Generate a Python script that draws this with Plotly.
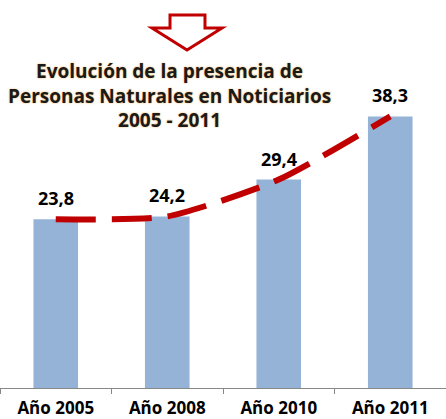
import plotly.graph_objects as go

years = ["Año 2005", "Año 2008", "Año 2010", "Año 2011"]
presence = [23.8, 24.2, 29.4, 38.3]
labels = ["23,8", "24,2", "29,4", "38,3"]

W, H = 446, 419
plot_bottom = 388  # pixel row of the x axis


def px(x):
    return x / W


def py(y):
    return (plot_bottom - y) / plot_bottom


fig = go.Figure()

fig.add_trace(go.Bar(
    x=years, y=presence, marker=dict(color="#95B3D7", line=dict(width=0)),
    hoverinfo="skip"
))

fig.add_trace(go.Scatter(
    x=years, y=presence, mode="lines",
    line=dict(color="#C00000", width=6, shape="spline", smoothing=0.6,
              dash="40px,16px"),
    hoverinfo="skip"
))

for yr, val, lab in zip(years, presence, labels):
    fig.add_annotation(
        x=yr, y=val, text=lab, showarrow=False, yanchor="bottom", yshift=7,
        font=dict(family="Open Sans", size=18, color="black", weight="bold")
    )

# title block
fig.add_annotation(
    xref="paper", yref="paper", x=px(169), y=py(56), xanchor="center", yanchor="top",
    text="Evolución de la presencia de<br>Personas Naturales en Noticiarios<br>2005 - 2011",
    showarrow=False, align="center",
    font=dict(family="Open Sans", size=19, color="#1a1a1a", weight="bold",
              shadow="0px 0px 2px #F0A848")
)

# down arrow outline
pts = [(170, 15), (205, 15), (205, 28), (222, 28), (187, 50), (152, 28), (170, 28)]
path = "M " + " L ".join(f"{px(a):.4f},{py(b):.4f}" for a, b in pts) + " Z"
fig.add_shape(type="path", xref="paper", yref="paper", path=path,
              line=dict(color="#C00000", width=3), fillcolor="white")

fig.update_layout(
    width=W, height=H,
    margin=dict(l=0, r=0, t=0, b=H - plot_bottom),
    paper_bgcolor="white", plot_bgcolor="white",
    showlegend=False, bargap=0.6,
    xaxis=dict(range=[-0.5, 3.5], showline=True, linecolor="#888888", linewidth=1,
               ticks="outside", tickson="boundaries", ticklen=5, tickcolor="#888888",
               ticklabelstandoff=5,
               tickfont=dict(family="Open Sans", size=17, color="black", weight="bold"),
               showgrid=False, fixedrange=True),
    yaxis=dict(range=[0, plot_bottom / 7.09], visible=False, showgrid=False,
               fixedrange=True),
)

fig.write_html("out.html", config={"displayModeBar": False},
               post_script="document.body.style.margin='0';")
